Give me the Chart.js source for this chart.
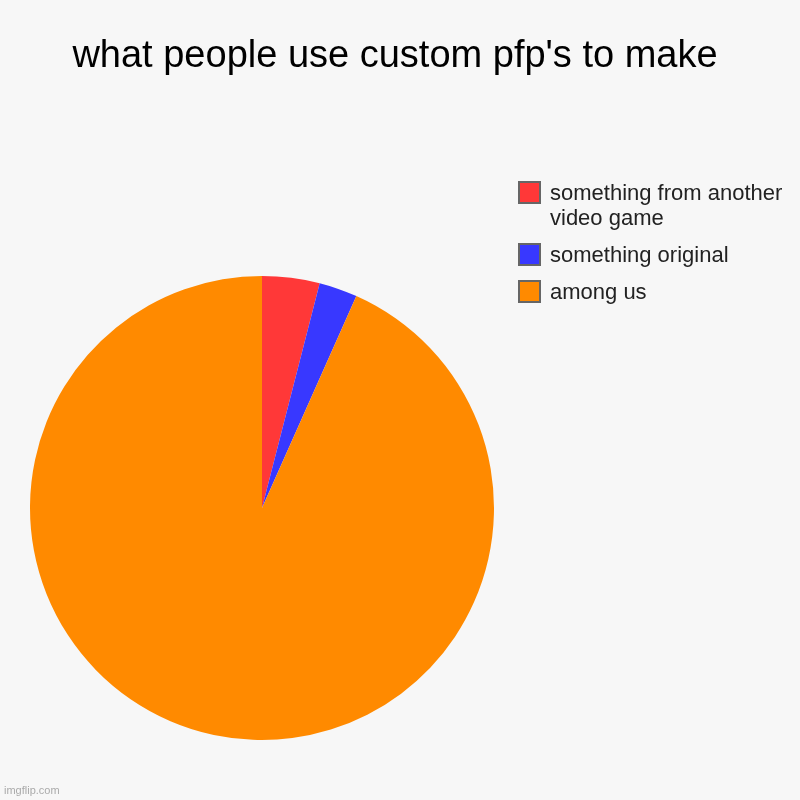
<!DOCTYPE html>
<html>
<head>
<meta charset="utf-8">
<script src="https://cdn.jsdelivr.net/npm/chart.js@4"></script>
<style>
  html,body{margin:0;padding:0;background:#f7f7f7;}
  #wrap{position:relative;width:800px;height:800px;background:#f7f7f7;font-family:"Liberation Sans",Arial,sans-serif;}
  #title{position:absolute;left:0;top:33px;width:790px;text-align:center;font-size:38px;color:#000;white-space:nowrap;}
  #legend{position:absolute;left:518px;top:180px;width:282px;}
  .item{position:relative;padding-left:32px;font-size:22px;line-height:25px;color:#222;margin-bottom:12px;white-space:nowrap;}
  .box{position:absolute;left:0;top:1px;width:19px;height:19px;border:2px solid #666;}
  #mark{position:absolute;left:4px;top:784px;font-size:11px;color:#aaa;}
  canvas{position:absolute;left:0;top:0;}
</style>
</head>
<body>
<div id="wrap">
  <canvas id="pie" width="800" height="800"></canvas>
  <div id="title">what people use custom pfp's to make</div>
  <div id="legend"></div>
  <div id="mark">imgflip.com</div>
</div>
<script>
// ============================================================
//  PIE DATA
// ============================================================
const categories=['something from another video game','something original','among us'];
const legendLines=[['something from another','video game'],['something original'],['among us']];
const values=[3,2,70];
const colors=['#ff3838','#3838ff','#ff8a00'];

const ctx=document.getElementById('pie').getContext('2d');
new Chart(ctx,{
  type:'pie',
  data:{labels:categories,datasets:[{data:values,backgroundColor:colors,borderWidth:0}]},
  options:{
    responsive:false,
    animation:false,
    layout:{padding:{left:30,right:306,top:276,bottom:60}},
    plugins:{legend:{display:false},tooltip:{enabled:false},title:{display:false}}
  }
});

// legend as plain html, same order as the slices
const lg=document.getElementById('legend');
legendLines.forEach((lines,i)=>{
  const d=document.createElement('div');
  d.className='item';
  d.innerHTML=`<span class="box" style="background:${colors[i]}"></span>${lines.join('<br>')}`;
  lg.appendChild(d);
});
</script>
</body>
</html>
